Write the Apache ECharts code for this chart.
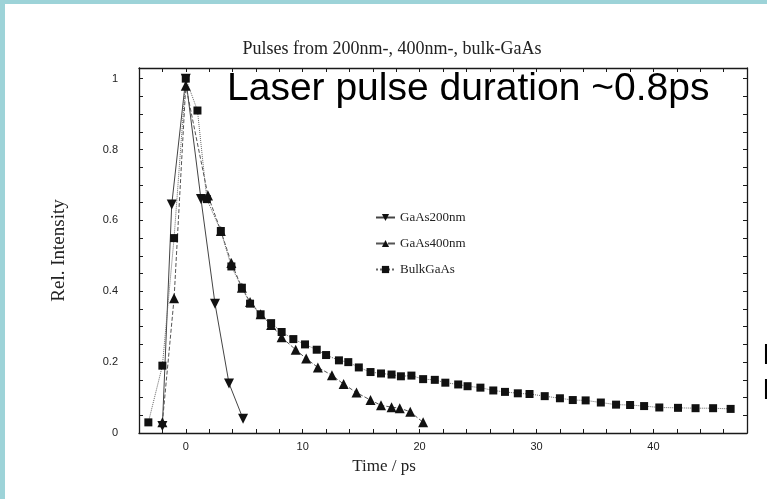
<!DOCTYPE html>
<html><head><meta charset="utf-8">
<script src="https://cdn.jsdelivr.net/npm/echarts@6/dist/echarts.min.js"></script>
<style>html,body{margin:0;padding:0;background:#fff}#c{width:767px;height:499px}</style>
</head><body><div id="c"></div>
<script>
const t200 = [-2.0, -1.2, 0.0, 1.3, 2.5, 3.7, 4.9];
const v200 = [0.02, 0.645, 1.0, 0.66, 0.365, 0.14, 0.04];

const t400 = [-2.0, -1.0, 0.0, 1.9, 3.0, 3.9, 4.8, 5.5, 6.4, 7.3, 8.2, 9.4, 10.3, 11.3, 12.5, 13.5, 14.6, 15.8, 16.7, 17.6, 18.3, 19.2, 20.3];
const v400 = [0.03, 0.38, 0.98, 0.67, 0.57, 0.48, 0.41, 0.37, 0.335, 0.305, 0.27, 0.235, 0.21, 0.185, 0.163, 0.138, 0.114, 0.093, 0.078, 0.073, 0.07, 0.06, 0.03];

const tBulk = [-3.2, -2.0, -1.0, 0.0, 1.0, 1.8, 3.0, 3.9, 4.8, 5.5, 6.4, 7.3, 8.2, 9.2, 10.2, 11.2, 12.0, 13.1, 13.9, 14.8, 15.8, 16.7, 17.6, 18.4, 19.3, 20.3, 21.3, 22.2, 23.3, 24.1, 25.2, 26.3, 27.3, 28.4, 29.4, 30.7, 32.0, 33.1, 34.2, 35.5, 36.8, 38.0, 39.2, 40.5, 42.1, 43.6, 45.1, 46.6];
const vBulk = [0.03, 0.19, 0.55, 1.0, 0.91, 0.66, 0.57, 0.47, 0.41, 0.365, 0.335, 0.31, 0.285, 0.265, 0.25, 0.235, 0.22, 0.205, 0.2, 0.185, 0.172, 0.168, 0.165, 0.16, 0.162, 0.152, 0.15, 0.142, 0.137, 0.132, 0.128, 0.12, 0.116, 0.112, 0.11, 0.104, 0.098, 0.093, 0.092, 0.086, 0.08, 0.079, 0.076, 0.072, 0.071, 0.07, 0.07, 0.068];

const xTickLabels = [0, 10, 20, 30, 40];
const yTickLabels = [0, 0.2, 0.4, 0.6, 0.8, 1];
const seriesNames = ['GaAs200nm', 'GaAs400nm', 'BulkGaAs'];

const zip = (a, b) => a.map((x, i) => [x, b[i]]);
const xMinor = []; for (let v = -4; v <= 48; v += 2) xMinor.push(v);
const yMinor = []; for (let k = 0; k <= 20; k++) yMinor.push(+(k * 0.05).toFixed(2));

const serif = '"Liberation Serif", "DejaVu Serif", serif';
const sans = '"Liberation Sans", Arial, sans-serif';
const ink = '#1a1a1a';

const baseX = {
  type: 'value', min: -4, max: 48,
  axisLine: { show: true, onZero: false, lineStyle: { color: ink, width: 1.3 } },
  axisTick: { show: true, inside: true, length: 4, customValues: xMinor, lineStyle: { color: ink } },
  splitLine: { show: false }
};
const baseY = {
  type: 'value', min: 0, max: 1.03,
  axisLine: { show: true, onZero: false, lineStyle: { color: ink, width: 1.3 } },
  axisTick: { show: true, inside: true, length: 4, customValues: yMinor, lineStyle: { color: ink } },
  splitLine: { show: false }
};

const chart = echarts.init(document.getElementById('c'), null, { renderer: 'canvas' });
chart.setOption({
  animation: false,
  backgroundColor: '#fff',
  title: {
    text: 'Pulses from 200nm-, 400nm-, bulk-GaAs',
    left: 387, top: 35, textAlign: 'center',
    textStyle: { fontFamily: serif, fontSize: 18, fontWeight: 'normal', color: '#222' }
  },
  grid: { left: 139, right: 20, top: 68, bottom: 66 },
  legend: {
    data: seriesNames,
    orient: 'vertical', left: 370, top: 206, itemGap: 13,
    itemWidth: 19, itemHeight: 9,
    textStyle: { fontFamily: serif, fontSize: 13, color: '#222' }
  },
  xAxis: [
    Object.assign({}, baseX, {
      position: 'bottom',
      axisLabel: { show: true, customValues: xTickLabels, fontFamily: sans, fontSize: 11, color: '#222', margin: 8 }
    }),
    Object.assign({}, baseX, { position: 'top', axisLabel: { show: false } })
  ],
  yAxis: [
    Object.assign({}, baseY, {
      position: 'left',
      name: 'Rel. Intensity', nameLocation: 'middle', nameGap: 70, nameRotate: 90,
      nameTextStyle: { fontFamily: serif, fontSize: 19, color: '#222' },
      axisLabel: { show: true, customValues: yTickLabels, fontFamily: sans, fontSize: 11, color: '#222', margin: 21,
        formatter: v => String(+v.toFixed(1)) }
    }),
    Object.assign({}, baseY, { position: 'right', axisLabel: { show: false } })
  ],
  series: [
    { name: seriesNames[0], type: 'line', data: zip(t200, v200),
      symbol: 'triangle', symbolRotate: 180, symbolSize: 10,
      lineStyle: { color: '#444', width: 1, type: 'solid' },
      itemStyle: { color: '#111' } },
    { name: seriesNames[1], type: 'line', data: zip(t400, v400),
      symbol: 'triangle', symbolSize: 10,
      lineStyle: { color: '#555', width: 1, type: 'dashed' },
      itemStyle: { color: '#111' } },
    { name: seriesNames[2], type: 'line', data: zip(tBulk, vBulk),
      symbol: 'rect', symbolSize: 8,
      lineStyle: { color: '#666', width: 1, type: 'dotted' },
      itemStyle: { color: '#111' } }
  ],
  graphic: [
    { type: 'rect', left: 0, top: 0, shape: { width: 767, height: 4 }, style: { fill: '#9dd3d8' }, z: 100 },
    { type: 'rect', left: 0, top: 0, shape: { width: 5, height: 499 }, style: { fill: '#9dd3d8' }, z: 100 },
    { type: 'text', x: 384, y: 467, style: { text: 'Time / ps', fontFamily: serif, fontSize: 17, fill: '#222', align: 'center', verticalAlign: 'middle' }, z: 100 },
    { type: 'text', x: 227, y: 89, style: { text: 'Laser pulse duration ~0.8ps', fontFamily: sans, fontSize: 39, fill: '#000', verticalAlign: 'middle' }, z: 100 },
    { type: 'text', x: 762.5, y: 356, style: { text: 'B', fontFamily: sans, fontSize: 30, fill: '#000', verticalAlign: 'middle' }, z: 100 },
    { type: 'text', x: 762.5, y: 391, style: { text: 'B', fontFamily: sans, fontSize: 30, fill: '#000', verticalAlign: 'middle' }, z: 100 }
  ]
});
</script></body></html>
